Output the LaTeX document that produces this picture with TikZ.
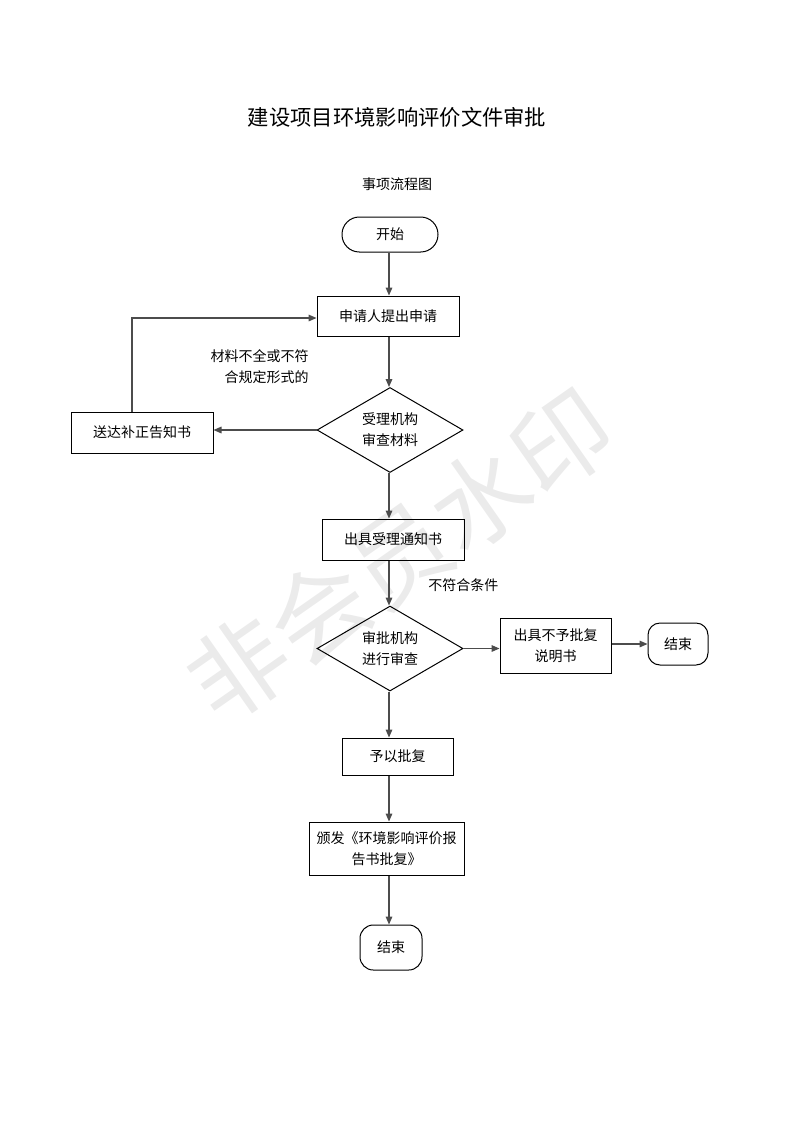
\documentclass[tikz,border=0pt]{standalone}
\usepackage{fontspec}
\setmainfont{Noto Sans CJK SC}
\usetikzlibrary{positioning,shapes.geometric,arrows.meta}
\tikzset{box/.style={draw,line width=0.75pt,inner sep=0pt,align=center,font=\fontsize{10.5pt}{15.75pt}\selectfont},
    choice/.style={box,diamond,aspect=1.72,minimum width=109.5pt,minimum height=63.75pt},
    terminal/.style={box,rounded corners=11pt},
    note/.style={font=\fontsize{10.5pt}{15.75pt}\selectfont,inner sep=0pt},
    link/.style={draw=black!70,line width=0.8pt,-{Triangle[length=6pt,width=5pt]}},
    }
\begin{document}
\begin{tikzpicture}[x=0.75pt,y=-0.75pt]
	\useasboundingbox (0,0) rectangle (793,1122);
	% watermark
	\node[rotate=35,text=black!8,font=\fontsize{74pt}{76pt}\selectfont] (wm) at (400,555) {非会员水印};
	\node (title) at (397,117) {\fontsize{16pt}{20pt}\selectfont 建设项目环境影响评价文件审批};
	\node[note] (sub) at (397,184) {事项流程图};
	\coordinate (axis) at (389,0);
	\node[terminal,minimum width=72pt,minimum height=26.25pt,rounded corners=13pt] (start) at (390,234.5) {开始};
	\node[box,minimum width=106.5pt,minimum height=30pt] (apply) at (388,316) {申请人提出申请};
	\node[choice] (check) at (390,430) {受理机构\\审查材料};
	\node[box,minimum width=106.5pt,minimum height=30.75pt] (notice) at (142,432.5) {送达补正告知书};
	\node[box,minimum width=106.5pt,minimum height=30.75pt] (accept) at (393,539.5) {出具受理通知书};
	\node[choice] (review) at (390,648.5) {审批机构\\进行审查};
	\node[box,minimum width=83.25pt,minimum height=41.25pt] (refuse) at (555.5,645.5) {出具不予批复\\说明书};
	\node[terminal,minimum width=45pt,minimum height=31.5pt,rounded corners=9pt] (endr) at (678,644) {结束};
	\node[box,minimum width=83.25pt,minimum height=27.75pt] (grant) at (397.5,756.5) {予以批复};
	\node[box,minimum width=116.25pt,minimum height=39.75pt] (issue) at (386.5,848.5) {颁发《环境影响评价报\\告书批复》};
	\node[terminal,minimum width=46.5pt,minimum height=33.75pt,rounded corners=10pt] (endb) at (391,947.5) {结束};
	\node[note,anchor=east,align=right] (lack) at (309,366.5) {材料不全或不符\\合规定形式的};
	\node[note,anchor=west] (fail) at (428,585) {不符合条件};
	\coordinate (loop) at (132,318);
	% main line
	\draw[link] (start.south -| axis) -- (apply.north -| axis);
	\draw[link] (apply.south -| axis) -- (check.north -| axis);
	\draw[link] (check.south -| axis) -- (accept.north -| axis);
	\draw[link] (accept.south -| axis) -- (review.north -| axis);
	\draw[link] (review.south -| axis) -- (grant.north -| axis);
	\draw[link] (grant.south -| axis) -- (issue.north -| axis);
	\draw[link] (issue.south -| axis) -- (endb.north -| axis);
	% side branches
	\draw[link] (check.west) -- (check.west -| notice.east);
	\draw[link] (notice.north -| loop) -- (loop) -- (loop -| apply.west);
	\draw[link] (review.east) -- (review.east -| refuse.west);
	\draw[link] (refuse.east |- endr.west) -- (endr.west);
\end{tikzpicture}
\end{document}
